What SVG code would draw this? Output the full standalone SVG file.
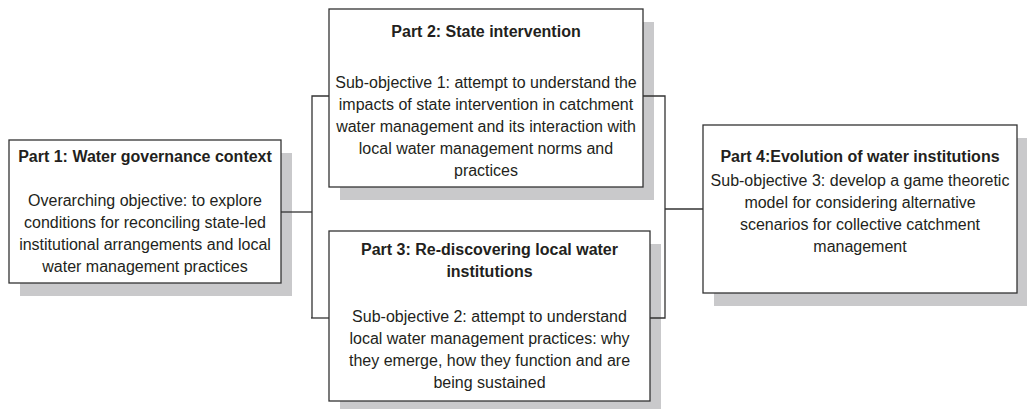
<svg xmlns="http://www.w3.org/2000/svg" width="1027" height="409" viewBox="0 0 1027 409">
  <style>
    .shadow { fill: #c9c9cb; }
    .box { fill: #ffffff; stroke: #333333; stroke-width: 1.3; }
    .link { fill: none; stroke: #333333; stroke-width: 1.3; }
    text { font-family: "Liberation Sans", Arial, sans-serif; font-size: 16px; fill: #231f20; text-anchor: middle; }
    .title { font-weight: bold; }
  </style>
  <rect width="1027" height="409" fill="#ffffff"/>

  <!-- Part 1 -->
  <g id="part1">
    <rect class="shadow" x="20" y="153" width="272" height="143"/>
    <rect class="box" x="9" y="140" width="272" height="143"/>
    <text class="title" x="145" y="162">Part 1: Water governance context</text>
    <text x="145" y="206">Overarching objective: to explore</text>
    <text x="145" y="228">conditions for reconciling state-led</text>
    <text x="145" y="250">institutional arrangements and local</text>
    <text x="145" y="272">water management practices</text>
  </g>

  <!-- Part 2 -->
  <g id="part2">
    <rect class="shadow" x="340" y="22" width="314" height="178"/>
    <rect class="box" x="329" y="9" width="314" height="178"/>
    <text class="title" x="486" y="37">Part 2: State intervention</text>
    <text x="486" y="88">Sub-objective 1: attempt to understand the</text>
    <text x="486" y="110">impacts of state intervention in catchment</text>
    <text x="486" y="132">water management and its interaction with</text>
    <text x="486" y="154">local water management norms and</text>
    <text x="486" y="176">practices</text>
  </g>

  <!-- Part 3 -->
  <g id="part3">
    <rect class="shadow" x="340" y="244" width="321" height="170"/>
    <rect class="box" x="329" y="231" width="321" height="170"/>
    <text class="title" x="489.5" y="255">Part 3: Re-discovering local water</text>
    <text class="title" x="489.5" y="277">institutions</text>
    <text x="489.5" y="322">Sub-objective 2: attempt to understand</text>
    <text x="489.5" y="344">local water management practices: why</text>
    <text x="489.5" y="366">they emerge, how they function and are</text>
    <text x="489.5" y="388">being sustained</text>
  </g>

  <!-- Part 4 -->
  <g id="part4">
    <rect class="shadow" x="714" y="138" width="314" height="168"/>
    <rect class="box" x="703" y="125" width="314" height="168"/>
    <text class="title" x="860" y="162">Part 4:Evolution of water institutions</text>
    <text x="860" y="186">Sub-objective 3: develop a game theoretic</text>
    <text x="860" y="208">model for considering alternative</text>
    <text x="860" y="230">scenarios for collective catchment</text>
    <text x="860" y="252">management</text>
  </g>

  <!-- connectors -->
  <g id="connectors">
    <path class="link" d="M281,212 H312"/>
    <path class="link" d="M329,96 H312 V318"/>
    <path class="link" d="M311,318 H329"/>
    <path class="link" d="M643,96 H665 V318 H650"/>
    <path class="link" d="M665,209 H703"/>
  </g>
</svg>
